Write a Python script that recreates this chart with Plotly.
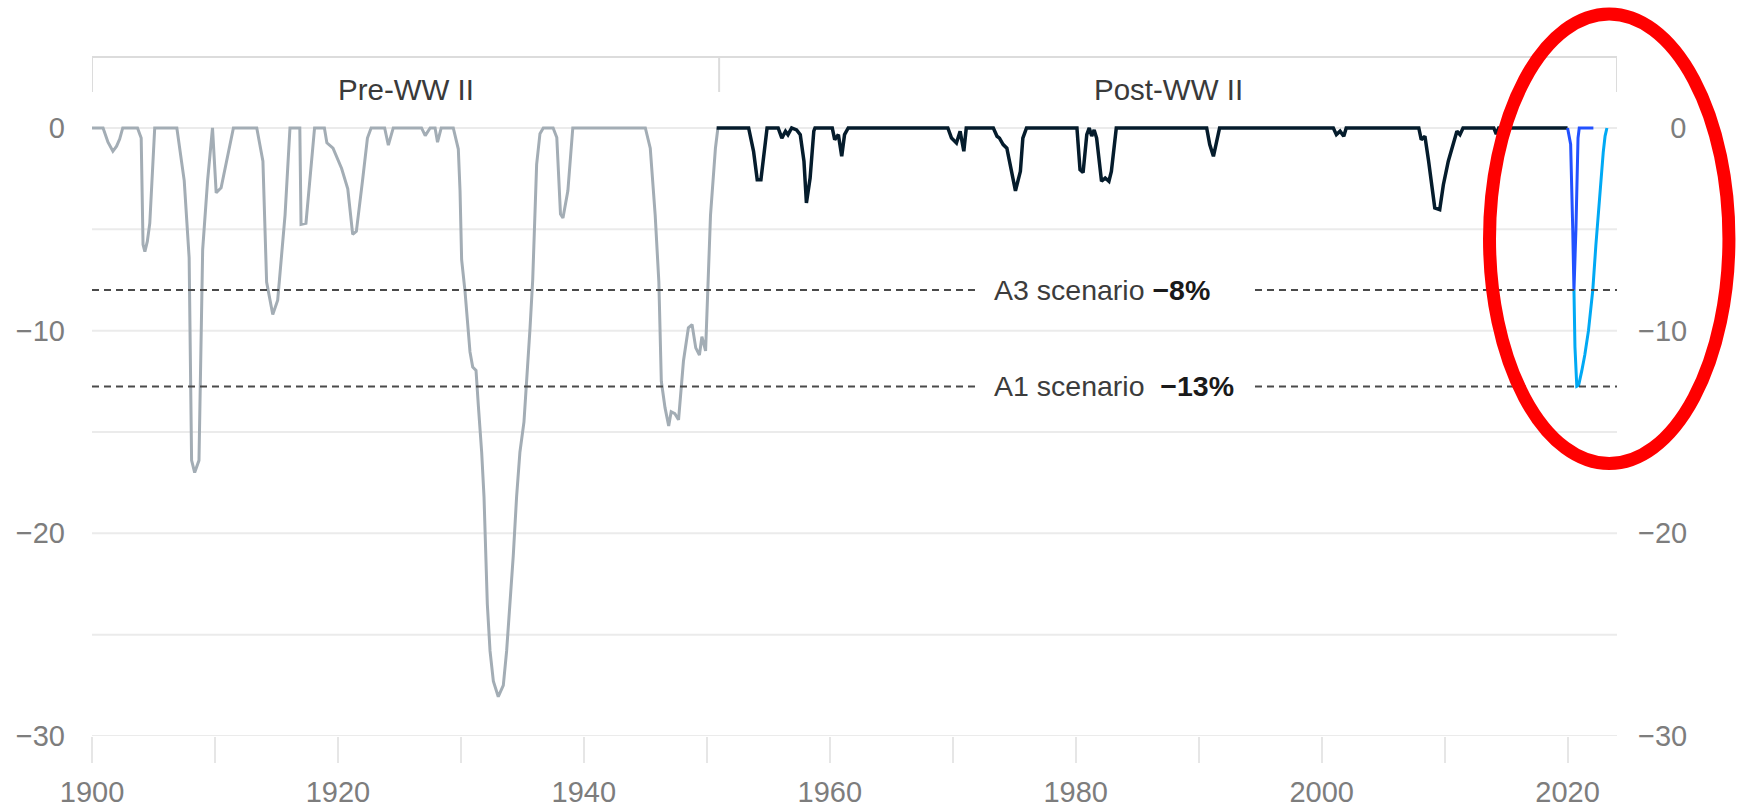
import plotly.graph_objects as go

# ---------------- data ----------------
pre_years = [1900.0, 1900.9, 1901.3, 1901.7, 1902.0, 1902.25, 1902.5, 1903.7, 1904.0, 1904.15, 1904.3, 1904.5,
             1904.7, 1905.1, 1906.9, 1907.5, 1907.9, 1908.1, 1908.35, 1908.7, 1909.0, 1909.4, 1909.8, 1910.1,
             1910.5, 1910.8, 1911.5, 1913.4, 1913.9, 1914.2, 1914.7, 1915.1, 1915.7, 1916.1, 1916.9, 1917.0,
             1917.4, 1918.1, 1918.9, 1919.1, 1919.6, 1920.3, 1920.8, 1921.2, 1921.5, 1922.0, 1922.4, 1922.7,
             1923.8, 1924.1, 1924.5, 1926.8, 1927.1, 1927.5, 1927.9, 1928.1, 1928.4, 1929.38, 1929.79, 1929.93,
             1929.98, 1930.06, 1930.33, 1930.52, 1930.74, 1930.96, 1931.23, 1931.42, 1931.69, 1931.88, 1932.04,
             1932.15, 1932.37, 1932.64, 1933.04, 1933.45, 1933.72, 1933.99, 1934.26, 1934.53, 1934.8, 1935.13,
             1935.35, 1935.62, 1935.84, 1936.03, 1936.16, 1936.43, 1936.7, 1937.5, 1937.8, 1938.1, 1938.3,
             1938.7, 1939.1, 1945.0, 1945.4, 1945.8, 1946.1, 1946.3, 1946.6, 1946.9, 1947.1, 1947.4, 1947.7,
             1948.1, 1948.5, 1948.8, 1949.1, 1949.4, 1949.6, 1949.9, 1950.0, 1950.3, 1950.7, 1950.9]
pre_values = [0, 0, -0.7, -1.15, -0.9, -0.55, 0, 0, -0.5, -5.75, -6.1, -5.6,
              -4.7, 0, 0, -2.6, -6.4, -16.4, -17.0, -16.4, -6.0, -2.6, 0, -3.2,
              -2.95, -2.1, 0, 0, -1.64, -7.6, -9.2, -8.5, -4.3, 0, 0, -4.76,
              -4.7, 0, 0, -0.73, -1.0, -2.0, -3.0, -5.25, -5.1, -2.6, -0.5, 0,
              0, -0.85, 0, 0, -0.38, 0, 0, -0.7, 0, 0, -1.04, -3.1,
              -5.0, -6.5, -8.03, -9.5, -11.05, -11.8, -11.96, -13.7, -16.0, -18.2, -21.1,
              -23.5, -25.8, -27.3, -28.06, -27.5, -25.8, -23.5, -21.1, -18.2, -16.0, -14.5,
              -12.6, -9.9, -7.5, -4.06, -1.8, -0.28, 0, 0, -0.47, -4.25, -4.44,
              -3.1, 0, 0, -1.0, -4.3, -7.6, -12.5, -13.8, -14.7, -14.0, -14.1, -14.4,
              -11.5, -9.86, -9.7, -10.85, -11.2, -10.3, -11.0, -9.2, -4.3, -1.0, 0]

post_years = [1950.8, 1953.4, 1953.8, 1954.1, 1954.4, 1954.7, 1954.9, 1955.8, 1956.1, 1956.4, 1956.6, 1956.9,
              1957.3, 1957.6, 1957.9, 1958.1, 1958.4, 1958.7, 1958.8, 1960.2, 1960.4, 1960.7, 1960.97, 1961.2,
              1961.5, 1969.6, 1969.9, 1970.3, 1970.6, 1970.9, 1971.1, 1973.3, 1973.6, 1973.8, 1974.1, 1974.4,
              1974.8, 1975.1, 1975.5, 1975.7, 1976.0, 1980.1, 1980.35, 1980.6, 1980.9, 1981.1, 1981.3, 1981.5,
              1981.7, 1982.1, 1982.4, 1982.7, 1982.9, 1983.06, 1983.3, 1990.65, 1990.9, 1991.2, 1991.5, 1991.7,
              2000.95, 2001.2, 2001.5, 2001.8, 2002.0, 2007.9, 2008.1, 2008.4, 2008.7, 2008.95, 2009.2, 2009.6,
              2009.9, 2010.3, 2010.6, 2011.0, 2011.25, 2011.5, 2014.0, 2014.2, 2014.4, 2020.0]
post_values = [0, 0, -1.15, -2.55, -2.55, -1.15, 0, 0, -0.5, -0.16, -0.33, 0,
               -0.1, -0.33, -1.64, -3.7, -2.47, -0.16, 0, 0, -0.58, -0.33, -1.4, -0.33,
               0, 0, -0.5, -0.74, -0.16, -1.15, 0, 0, -0.41, -0.5, -0.82, -1.0,
               -2.14, -3.1, -2.14, -0.5, 0, 0, -2.06, -2.2, -0.33, 0, -0.4, -0.1,
               -0.5, -2.63, -2.47, -2.63, -2.14, -1.15, 0, 0, -0.82, -1.4, -0.5, 0,
               0, -0.33, -0.16, -0.41, 0, 0, -0.58, -0.41, -1.64, -2.96, -3.95, -4.03,
               -2.8, -1.64, -1.0, -0.16, -0.33, 0, 0, -0.3, 0, 0]

a3_years = [2020.0, 2020.25, 2020.42, 2020.52, 2020.68, 2020.85, 2020.95, 2022.1]
a3_values = [0, -0.8, -5.0, -8.0, -5.0, -0.5, 0, 0]

a1_years = [2020.52, 2020.6, 2020.75, 2020.9, 2021.15, 2021.4, 2021.7, 2021.9, 2022.05, 2022.3, 2022.5,
            2022.7, 2022.9, 2023.05, 2023.2]
a1_values = [-8.0, -10.8, -12.75, -12.7, -12.0, -11.2, -10.0, -9.0, -8.0, -5.8, -4.1,
             -2.5, -1.2, -0.4, 0]

scenario_names = ["A3 scenario", "A1 scenario"]
scenario_levels = [-8.0, -12.75]
scenario_labels = ["−8%", "−13%"]

era_names = ["Pre-WW II", "Post-WW II"]
era_bounds = [1900, 1951, 2024.02]

x_tick_vals = list(range(1900, 2021, 10))
x_tick_text = ["1900", "", "1920", "", "1940", "", "1960", "", "1980", "", "2000", "", "2020"]
y_tick_vals = [-30, -20, -10, 0]
y_tick_text_left = ["−30", "−20", "−10", "0"]
y_tick_text_right = ["−30", "−20", "−10", "\u2007\u20070"]

# ---------------- figure ----------------
FONT = "Liberation Sans, Arial, sans-serif"
X_RANGE = [1900, 2024.02]
Y_RANGE = [-30, 3.6]

fig = go.Figure()
fig.add_trace(go.Scatter(x=pre_years, y=pre_values, mode="lines",
                         line=dict(color="#a3adb5", width=3), hoverinfo="skip", showlegend=False))
fig.add_trace(go.Scatter(x=post_years, y=post_values, mode="lines",
                         line=dict(color="#051c2c", width=3.5), hoverinfo="skip", showlegend=False))
fig.add_trace(go.Scatter(x=a1_years, y=a1_values, mode="lines",
                         line=dict(color="#00a9f4", width=3), hoverinfo="skip", showlegend=False,
                         yaxis="y2"))
fig.add_trace(go.Scatter(x=a3_years, y=a3_values, mode="lines",
                         line=dict(color="#2251ff", width=3), hoverinfo="skip", showlegend=False))

shapes = []
annotations = []

# scenario dotted lines with a gap for the label
gap_left, gap_right = 1971.97, 1994.58
for name, lvl, lab in zip(scenario_names, scenario_levels, scenario_labels):
    for xa, xb in [(X_RANGE[0], gap_left), (gap_right, X_RANGE[1])]:
        shapes.append(dict(type="line", xref="x", yref="y", x0=xa, x1=xb, y0=lvl, y1=lvl,
                           line=dict(color="#4a4a4a", width=2, dash="7px,5px"), layer="above"))
    sep = " " if name.startswith("A3") else "\u00a0\u00a0"
    annotations.append(dict(x=1973.2, y=lvl, xref="x", yref="y", xanchor="left", yanchor="middle",
                            showarrow=False,
                            text=f"<span style='color:#3c3c3c'>{name}</span>{sep}<b>{lab}</b>",
                            font=dict(family=FONT, size=28.5, color="#1a1a1a")))

# era header boxes
hdr_top, hdr_bot = 0.997, 0.9457
shapes.append(dict(type="line", xref="x", yref="paper", x0=era_bounds[0], x1=era_bounds[-1],
                   y0=hdr_top, y1=hdr_top, line=dict(color="#dcdcdc", width=2)))
for xb in era_bounds:
    shapes.append(dict(type="line", xref="x", yref="paper", x0=xb, x1=xb, y0=hdr_bot, y1=hdr_top,
                       line=dict(color="#dcdcdc", width=2)))
for i, name in enumerate(era_names):
    annotations.append(dict(x=(era_bounds[i] + era_bounds[i + 1]) / 2, y=0.9493, xref="x", yref="paper",
                            xanchor="center", yanchor="middle", showarrow=False, text=name,
                            font=dict(family=FONT, size=29.5, color="#3a3a3a")))

# red highlight ellipse
shapes.append(dict(type="circle", xref="paper", yref="paper", x0=0.9164, x1=1.0734, y0=0.4001, y1=1.0602,
                   line=dict(color="#ff0000", width=13), layer="above"))

axis_font = dict(family=FONT, size=29, color="#7d7d7d")
fig.update_layout(
    template="none",
    width=1737, height=811,
    margin=dict(l=92, r=120, t=55, b=75, pad=0, autoexpand=False),
    paper_bgcolor="white", plot_bgcolor="white",
    showlegend=False,
    shapes=shapes, annotations=annotations,
    xaxis=dict(range=X_RANGE, tickvals=x_tick_vals, ticktext=x_tick_text, showgrid=False, zeroline=False,
               showline=False, ticks="outside", ticklen=26, tickwidth=1.5, tickcolor="#e6e6e6",
               ticklabelstandoff=4, tickfont=axis_font, fixedrange=True, automargin=False),
    yaxis=dict(range=Y_RANGE, tickvals=y_tick_vals, ticktext=y_tick_text_left, showgrid=False,
               zeroline=False, showline=False, ticks="", ticklabelstandoff=26, tickfont=axis_font,
               fixedrange=True, automargin=False),
    yaxis2=dict(range=Y_RANGE, overlaying="y", side="right", anchor="x", tickvals=y_tick_vals,
                ticktext=y_tick_text_right, showgrid=False, zeroline=False, showline=False, ticks="",
                ticklabelstandoff=20, tickfont=axis_font, fixedrange=True, automargin=False),
)

# horizontal gridlines every 5 (drawn below traces)
for g in range(-30, 1, 5):
    fig.add_shape(type="line", xref="x", yref="y", x0=X_RANGE[0], x1=X_RANGE[1], y0=g, y1=g,
                  line=dict(color="#ebebeb", width=2), layer="below")

fig.write_html("out.html", config={"displayModeBar": False, "responsive": False},
               post_script="document.body.style.margin='0';document.body.style.overflow='hidden';")
